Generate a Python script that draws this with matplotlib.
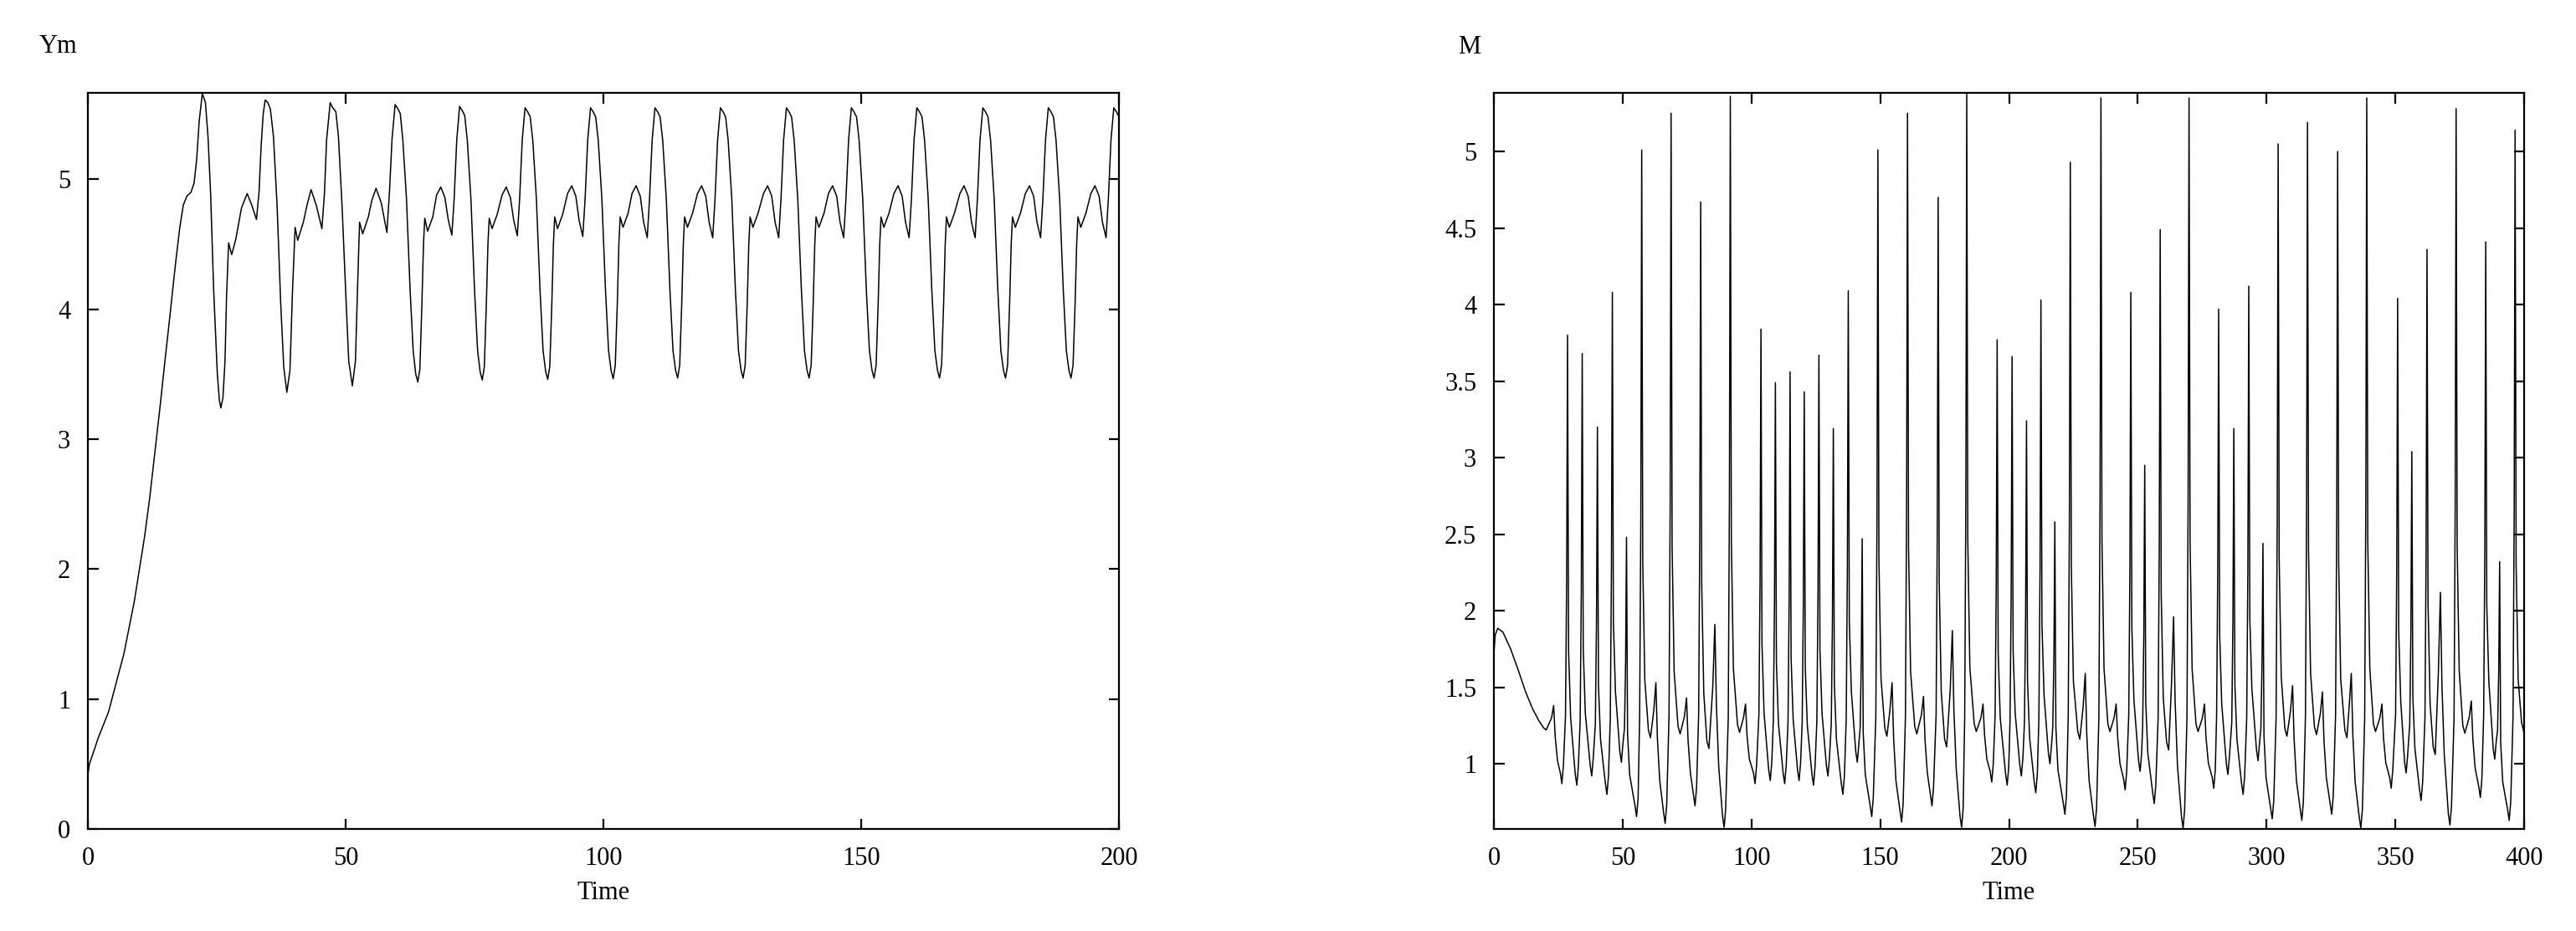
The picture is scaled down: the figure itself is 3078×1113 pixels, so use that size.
import numpy as np
import matplotlib
matplotlib.use("Agg")
import matplotlib.pyplot as plt

# Ym(t)
ym_time = [
    0, 0.3, 1, 2, 3, 4, 5, 6, 7, 8, 9, 10, 11, 12, 13, 14, 15, 16, 17, 17.8, 18.5, 19.2, 20.0, 20.6, 21.1, 21.6, 22.2,
    22.8, 23.3, 23.8, 24.4, 25.1, 25.5, 25.8, 26.2, 26.6, 26.9, 27.3, 27.9, 28.7, 29.8, 30.9, 31.8, 32.7, 33.2, 33.6, 34.0,
    34.4, 34.9, 35.4, 36.0, 36.7, 37.4, 38.0, 38.6, 39.2, 39.7, 40.2, 40.7, 41.8, 42.5, 43.3, 44.3, 45.4, 45.9, 46.3,
    47.0, 47.5, 48.1, 48.6, 49.3, 50.1, 50.6, 51.3, 51.9, 52.3, 52.7, 53.3, 54.4, 55.1, 55.9, 56.9, 58.0, 58.5, 59.0,
    59.6, 60.1, 60.6, 61.1, 61.8, 62.5, 63.1, 63.6, 64.0, 64.4, 64.8, 65.1, 65.35, 65.9, 66.9, 67.65, 68.45, 69.25, 69.9, 70.6, 71.05, 71.55,
    72.1, 72.6, 73.1, 73.6, 74.3, 75.0, 75.6, 76.1, 76.5, 76.9, 77.3, 77.6, 77.85, 78.4, 79.4, 80.35, 81.15, 81.95, 82.6, 83.3, 83.75, 84.25,
    84.8, 85.3, 85.8, 86.3, 87.0, 87.7, 88.3, 88.8, 89.2, 89.6, 90.0, 90.3, 90.55, 91.1, 92.1, 93.05, 93.85, 94.65, 95.3, 96.0, 96.45, 96.95,
    97.5, 98.0, 98.5, 99.0, 99.7, 100.4, 101.0, 101.5, 101.9, 102.3, 102.7, 103.0, 103.25, 103.8, 104.8, 105.55, 106.35, 107.15, 107.8, 108.5, 108.95, 109.45,
    110.0, 110.5, 111.0, 111.5, 112.2, 112.9, 113.5, 114.0, 114.4, 114.8, 115.2, 115.5, 115.75, 116.3, 117.3, 118.25, 119.05, 119.85, 120.5, 121.2, 121.65, 122.15,
    122.7, 123.2, 123.7, 124.2, 124.9, 125.6, 126.2, 126.7, 127.1, 127.5, 127.9, 128.2, 128.45, 129.0, 130.0, 131.05, 131.85, 132.65, 133.3, 134.0, 134.45, 134.95,
    135.5, 136.0, 136.5, 137.0, 137.7, 138.4, 139.0, 139.5, 139.9, 140.3, 140.7, 141.0, 141.25, 141.8, 142.8, 143.65, 144.45, 145.25, 145.9, 146.6, 147.05, 147.55,
    148.1, 148.6, 149.1, 149.6, 150.3, 151.0, 151.6, 152.1, 152.5, 152.9, 153.3, 153.6, 153.85, 154.4, 155.4, 156.35, 157.15, 157.95, 158.6, 159.3, 159.75, 160.25,
    160.8, 161.3, 161.8, 162.3, 163.0, 163.7, 164.3, 164.8, 165.2, 165.6, 166.0, 166.3, 166.55, 167.1, 168.1, 169.15, 169.95, 170.75, 171.4, 172.1, 172.55, 173.05,
    173.6, 174.1, 174.6, 175.1, 175.8, 176.5, 177.1, 177.6, 178.0, 178.4, 178.8, 179.1, 179.35, 179.9, 180.9, 181.85, 182.65, 183.45, 184.1, 184.8, 185.25, 185.75,
    186.3, 186.8, 187.3, 187.8, 188.5, 189.2, 189.8, 190.3, 190.7, 191.1, 191.5, 191.8, 192.05, 192.6, 193.6, 194.55, 195.35, 196.15, 196.8, 197.5, 197.95, 198.45,
    199.0, 199.5, 200.0,
]
ym_value = [
    0.42, 0.50, 0.58, 0.70, 0.80, 0.90, 1.05, 1.20, 1.35, 1.55, 1.75, 2.00, 2.25, 2.55, 2.90, 3.25, 3.62, 3.98, 4.35, 4.62, 4.80, 4.87, 4.90, 4.97, 5.15, 5.45, 5.66,
    5.59, 5.33, 4.90, 4.15, 3.51, 3.30, 3.24, 3.32, 3.60, 4.10, 4.51, 4.42, 4.54, 4.78, 4.89, 4.80, 4.69, 4.90, 5.25, 5.50,
    5.61, 5.59, 5.54, 5.33, 4.80, 4.05, 3.55, 3.36, 3.53, 4.15, 4.63, 4.53, 4.67, 4.80, 4.92, 4.80, 4.62, 4.90, 5.30,
    5.59, 5.55, 5.52, 5.33, 4.80, 4.05, 3.60, 3.41, 3.60, 4.15, 4.67, 4.58, 4.71, 4.84, 4.93, 4.82, 4.59, 4.90, 5.31,
    5.575, 5.545, 5.505, 5.30, 4.85, 4.15, 3.68, 3.50, 3.44, 3.54, 4.05, 4.50, 4.70, 4.60, 4.71, 4.88, 4.94, 4.86, 4.69, 4.57, 4.85, 5.30,
    5.56, 5.53, 5.49, 5.30, 4.85, 4.15, 3.68, 3.515, 3.455, 3.555, 4.05, 4.50, 4.70, 4.62, 4.73, 4.88, 4.94, 4.86, 4.685, 4.565, 4.85, 5.30,
    5.55, 5.52, 5.48, 5.30, 4.85, 4.15, 3.68, 3.52, 3.46, 3.56, 4.05, 4.50, 4.71, 4.62, 4.73, 4.89, 4.95, 4.87, 4.68, 4.56, 4.85, 5.30,
    5.55, 5.52, 5.48, 5.30, 4.85, 4.15, 3.68, 3.525, 3.465, 3.565, 4.05, 4.50, 4.71, 4.63, 4.74, 4.89, 4.95, 4.87, 4.67, 4.55, 4.85, 5.30,
    5.55, 5.52, 5.48, 5.30, 4.85, 4.15, 3.68, 3.53, 3.47, 3.57, 4.05, 4.50, 4.71, 4.63, 4.74, 4.89, 4.95, 4.87, 4.67, 4.55, 4.85, 5.30,
    5.55, 5.52, 5.48, 5.30, 4.85, 4.15, 3.68, 3.53, 3.47, 3.57, 4.05, 4.50, 4.71, 4.63, 4.74, 4.89, 4.95, 4.87, 4.67, 4.55, 4.85, 5.30,
    5.55, 5.52, 5.48, 5.30, 4.85, 4.15, 3.68, 3.53, 3.47, 3.57, 4.05, 4.50, 4.71, 4.63, 4.74, 4.89, 4.95, 4.87, 4.67, 4.55, 4.85, 5.30,
    5.55, 5.52, 5.48, 5.30, 4.85, 4.15, 3.68, 3.53, 3.47, 3.57, 4.05, 4.50, 4.71, 4.63, 4.74, 4.89, 4.95, 4.87, 4.67, 4.55, 4.85, 5.30,
    5.55, 5.52, 5.48, 5.30, 4.85, 4.15, 3.68, 3.53, 3.47, 3.57, 4.05, 4.50, 4.71, 4.63, 4.74, 4.89, 4.95, 4.87, 4.67, 4.55, 4.85, 5.30,
    5.55, 5.52, 5.48, 5.30, 4.85, 4.15, 3.68, 3.53, 3.47, 3.57, 4.05, 4.50, 4.71, 4.63, 4.74, 4.89, 4.95, 4.87, 4.67, 4.55, 4.85, 5.30,
    5.55, 5.52, 5.48, 5.30, 4.85, 4.15, 3.68, 3.53, 3.47, 3.57, 4.05, 4.50, 4.71, 4.63, 4.74, 4.89, 4.95, 4.87, 4.67, 4.55, 4.85, 5.30,
    5.55, 5.52, 5.48,
]

# M(t)
m_time = [
    0, 0.5, 1.5, 3.5, 6.5, 9.5, 12.3, 15.0, 17.5, 19.3, 20.3, 22.4, 23.2, 23.8, 24.7, 25.8, 26.4, 27.0, 27.8, 28.25,
    28.6, 29.0, 29.8, 31.6, 32.2, 32.8, 33.5, 33.95,
    34.3, 34.7, 35.5, 37.4, 38.0, 38.6, 39.4, 39.85,
    40.2, 40.6, 41.4, 43.3, 43.9, 44.5, 45.2, 45.65,
    46.0, 46.4, 47.2, 48.9, 49.5, 50.1, 50.7, 51.15,
    51.5, 51.9, 52.7, 54.8, 55.4, 56.0, 56.6, 57.05,
    57.4, 57.8, 58.6, 60.0, 60.8, 62.1, 62.9, 63.5, 64.4, 65.9, 66.5, 67.1, 68.0, 68.45,
    68.8, 69.2, 70.0, 71.5, 72.3, 74.0, 74.8, 75.4, 76.3, 77.5, 78.1, 78.7, 79.5, 79.95,
    80.3, 80.7, 81.5, 82.7, 83.5, 85.0, 85.8, 86.4, 87.3, 88.8, 89.4, 90.0, 91.0, 91.45,
    91.8, 92.2, 93.0, 94.6, 95.4, 96.9, 97.7, 98.3, 99.2, 100.8, 101.4, 102.0, 102.9, 103.35,
    103.7, 104.1, 104.9, 106.7, 107.3, 107.9, 108.5, 108.95,
    109.3, 109.7, 110.5, 112.3, 112.9, 113.5, 114.2, 114.65,
    115.0, 115.4, 116.2, 117.9, 118.5, 119.1, 119.7, 120.15,
    120.5, 120.9, 121.7, 123.5, 124.1, 124.7, 125.4, 125.85,
    126.2, 126.6, 127.4, 129.1, 129.7, 130.3, 131.0, 131.45,
    131.8, 132.2, 133.0, 134.9, 135.5, 136.1, 136.8, 137.25,
    137.6, 138.0, 138.8, 140.5, 141.1, 141.7, 142.2, 142.65,
    143.0, 143.4, 144.2, 146.1, 146.7, 147.3, 148.3, 148.75,
    149.1, 149.5, 150.3, 151.8, 152.6, 153.8, 154.6, 155.2, 156.1, 157.7, 158.3, 158.9, 159.8, 160.25,
    160.6, 161.0, 161.8, 163.4, 164.2, 166.0, 166.8, 167.4, 168.3, 169.5, 170.1, 170.7, 171.7, 172.15,
    172.5, 172.9, 173.7, 175.0, 175.8, 177.2, 178.0, 178.6, 179.5, 181.0, 181.6, 182.2, 182.8, 183.25,
    183.6, 184.0, 184.8, 186.5, 187.3, 189.1, 189.9, 190.5, 191.4, 192.7, 193.3, 193.9, 194.6, 195.05,
    195.4, 195.8, 196.6, 198.7, 199.3, 199.9, 200.4, 200.85,
    201.2, 201.6, 202.4, 204.2, 204.8, 205.4, 206.0, 206.45,
    206.8, 207.2, 208.0, 209.8, 210.4, 211.0, 211.6, 212.05,
    212.4, 212.8, 213.6, 215.3, 215.9, 216.5, 217.0, 217.45,
    217.8, 218.2, 219.0, 221.1, 221.7, 222.3, 223.0, 223.45,
    223.8, 224.2, 225.0, 226.7, 227.5, 228.8, 229.6, 230.2, 231.1, 232.8, 233.4, 234.0, 234.9, 235.35,
    235.7, 236.1, 236.9, 238.4, 239.2, 240.8, 241.6, 242.2, 243.1, 244.5, 245.1, 245.7, 246.5, 246.95,
    247.3, 247.7, 248.5, 250.3, 250.9, 251.5, 251.9, 252.35,
    252.7, 253.1, 253.9, 255.8, 256.4, 257.0, 257.9, 258.35,
    258.7, 259.1, 259.9, 261.2, 262.0, 263.1, 263.9, 264.5, 265.4, 267.0, 267.6, 268.2, 269.1, 269.55,
    269.9, 270.3, 271.1, 272.6, 273.4, 275.1, 275.9, 276.5, 277.4, 278.9, 279.5, 280.1, 280.6, 281.05,
    281.4, 281.8, 282.6, 284.4, 285.0, 285.6, 286.5, 286.95,
    287.3, 287.7, 288.5, 290.3, 290.9, 291.5, 292.3, 292.75,
    293.1, 293.5, 294.3, 296.1, 296.7, 297.3, 297.8, 298.25,
    298.6, 299.0, 299.8, 301.6, 302.2, 302.8, 303.7, 304.15,
    304.5, 304.9, 305.7, 307.1, 307.9, 309.3, 310.1, 310.7, 311.6, 313.1, 313.7, 314.3, 315.1, 315.55,
    315.9, 316.3, 317.1, 318.6, 319.4, 320.9, 321.7, 322.3, 323.2, 324.7, 325.3, 325.9, 326.8, 327.25,
    327.6, 328.0, 328.8, 330.4, 331.2, 332.1, 332.9, 333.5, 334.4, 336.0, 336.6, 337.2, 338.1, 338.55,
    338.9, 339.3, 340.1, 341.5, 342.3, 344.0, 344.8, 345.4, 346.3, 347.8, 348.4, 349.0, 350.1, 350.55,
    350.9, 351.3, 352.1, 353.6, 354.2, 354.8, 355.6, 356.05,
    356.4, 356.8, 357.6, 359.4, 360.0, 360.6, 361.5, 361.95,
    362.3, 362.7, 363.5, 364.7, 365.5, 366.7, 367.5, 368.1, 369.0, 370.6, 371.2, 371.8, 372.8, 373.25,
    373.6, 374.0, 374.8, 376.2, 377.0, 378.7, 379.5, 380.1, 381.0, 382.4, 383.0, 383.6, 384.3, 384.75,
    385.1, 385.5, 386.3, 388.0, 388.6, 389.2, 389.7, 390.15,
    390.5, 390.9, 391.7, 393.6, 394.2, 394.8, 395.7, 396.15,
    396.5, 396.9, 397.7, 399.0, 400.0,
]
m_value = [
    1.72, 1.84, 1.885, 1.86, 1.75, 1.61, 1.47, 1.36, 1.28, 1.235, 1.22, 1.30, 1.38, 1.18, 1.02, 0.94, 0.87, 0.99, 1.31, 2.19,
    3.80, 1.74, 1.30, 0.93, 0.86, 0.98, 1.28, 2.13,
    3.68, 1.75, 1.33, 0.99, 0.92, 1.04, 1.26, 1.95,
    3.20, 1.52, 1.16, 0.87, 0.80, 0.92, 1.29, 2.28,
    4.08, 1.93, 1.47, 1.08, 1.01, 1.13, 1.23, 1.67,
    2.48, 1.20, 0.93, 0.725, 0.655, 0.775, 1.31, 2.61,
    5.01, 2.32, 1.55, 1.22, 1.17, 1.35, 1.53, 1.16, 0.89, 0.68, 0.61, 0.73, 1.31, 2.70,
    5.25, 2.41, 1.60, 1.245, 1.195, 1.31, 1.43, 1.15, 0.94, 0.795, 0.725, 0.845, 1.32, 2.50,
    4.67, 2.17, 1.46, 1.15, 1.10, 1.505, 1.91, 1.38, 0.98, 0.655, 0.585, 0.705, 1.30, 2.73,
    5.36, 2.45, 1.62, 1.255, 1.205, 1.30, 1.39, 1.18, 1.03, 0.94, 0.87, 0.99, 1.32, 2.21,
    3.84, 1.78, 1.33, 0.96, 0.89, 1.01, 1.28, 2.06,
    3.49, 1.66, 1.26, 0.94, 0.87, 0.99, 1.27, 2.08,
    3.56, 1.69, 1.29, 0.96, 0.89, 1.01, 1.27, 2.03,
    3.43, 1.63, 1.25, 0.93, 0.86, 0.98, 1.28, 2.12,
    3.67, 1.75, 1.33, 0.99, 0.92, 1.04, 1.26, 1.94,
    3.19, 1.52, 1.16, 0.87, 0.80, 0.92, 1.29, 2.28,
    4.09, 1.93, 1.47, 1.08, 1.01, 1.13, 1.23, 1.67,
    2.47, 1.20, 0.93, 0.725, 0.655, 0.775, 1.31, 2.61,
    5.01, 2.33, 1.56, 1.23, 1.18, 1.355, 1.53, 1.17, 0.89, 0.69, 0.62, 0.74, 1.31, 2.70,
    5.25, 2.41, 1.60, 1.245, 1.195, 1.32, 1.44, 1.155, 0.94, 0.795, 0.725, 0.845, 1.32, 2.51,
    4.70, 2.19, 1.47, 1.16, 1.11, 1.49, 1.87, 1.355, 0.97, 0.655, 0.585, 0.705, 1.305, 2.74,
    5.383, 2.46, 1.63, 1.26, 1.21, 1.30, 1.39, 1.19, 1.03, 0.95, 0.88, 1.00, 1.31, 2.18,
    3.77, 1.73, 1.30, 0.93, 0.86, 0.98, 1.28, 2.12,
    3.66, 1.74, 1.33, 0.99, 0.92, 1.04, 1.27, 1.96,
    3.24, 1.54, 1.17, 0.88, 0.81, 0.93, 1.29, 2.26,
    4.03, 1.91, 1.45, 1.07, 1.00, 1.12, 1.24, 1.71,
    2.58, 1.24, 0.96, 0.74, 0.67, 0.79, 1.31, 2.59,
    4.93, 2.29, 1.54, 1.21, 1.16, 1.375, 1.59, 1.19, 0.89, 0.66, 0.59, 0.71, 1.30, 2.73,
    5.35, 2.45, 1.62, 1.26, 1.21, 1.30, 1.39, 1.17, 1.00, 0.90, 0.83, 0.95, 1.32, 2.29,
    4.08, 1.89, 1.42, 1.02, 0.95, 1.07, 1.25, 1.85,
    2.95, 1.40, 1.07, 0.81, 0.74, 0.86, 1.30, 2.43,
    4.49, 2.11, 1.43, 1.14, 1.09, 1.525, 1.96, 1.41, 0.99, 0.65, 0.58, 0.70, 1.30, 2.73,
    5.35, 2.45, 1.62, 1.26, 1.21, 1.30, 1.39, 1.17, 1.005, 0.91, 0.84, 0.96, 1.31, 2.25,
    3.97, 1.84, 1.39, 1.00, 0.93, 1.05, 1.27, 1.95,
    3.19, 1.52, 1.16, 0.87, 0.80, 0.92, 1.30, 2.29,
    4.12, 1.95, 1.49, 1.09, 1.02, 1.14, 1.23, 1.66,
    2.44, 1.18, 0.91, 0.71, 0.64, 0.76, 1.30, 2.62,
    5.05, 2.34, 1.57, 1.23, 1.18, 1.345, 1.51, 1.16, 0.89, 0.70, 0.63, 0.75, 1.31, 2.68,
    5.19, 2.39, 1.59, 1.24, 1.19, 1.33, 1.47, 1.15, 0.91, 0.74, 0.67, 0.79, 1.32, 2.62,
    5.00, 2.32, 1.55, 1.22, 1.17, 1.38, 1.59, 1.19, 0.88, 0.65, 0.58, 0.70, 1.30, 2.73,
    5.35, 2.45, 1.62, 1.26, 1.21, 1.30, 1.39, 1.17, 1.005, 0.91, 0.84, 0.96, 1.32, 2.28,
    4.04, 1.87, 1.41, 1.01, 0.94, 1.06, 1.26, 1.89,
    3.04, 1.44, 1.10, 0.83, 0.76, 0.88, 1.30, 2.38,
    4.36, 2.05, 1.39, 1.11, 1.06, 1.59, 2.12, 1.51, 1.06, 0.67, 0.60, 0.72, 1.30, 2.71,
    5.28, 2.42, 1.61, 1.25, 1.20, 1.305, 1.41, 1.16, 0.97, 0.85, 0.78, 0.90, 1.32, 2.41,
    4.41, 2.04, 1.54, 1.10, 1.03, 1.15, 1.22, 1.61,
    2.32, 1.14, 0.88, 0.70, 0.63, 0.75, 1.31, 2.66,
    5.14, 2.30, 1.55, 1.27, 1.20,
]

ym_xticks = [0, 50, 100, 150, 200]
ym_yticks = [0, 1, 2, 3, 4, 5]
m_xticks = [0, 50, 100, 150, 200, 250, 300, 350, 400]
m_yticks = [1, 1.5, 2, 2.5, 3, 3.5, 4, 4.5, 5]
m_yticklabels = ["1", "1.5", "2", "2.5", "3", "3.5", "4", "4.5", "5"]

plt.rcParams['font.family'] = ['Liberation Serif', 'DejaVu Serif']

W, H = 3078, 1113
fig = plt.figure(figsize=(W / 100, H / 100), dpi=100)
ax1 = fig.add_axes([105 / W, 1 - 991 / H, 1232 / W, 880 / H])
ax2 = fig.add_axes([1785 / W, 1 - 991 / H, 1231 / W, 880 / H])

ax1.plot(ym_time, ym_value, color='black', lw=1.1)
ax1.set_xlim(0, 200)
ax1.set_ylim(0, 5.665)
ax1.set_xticks(ym_xticks)
ax1.set_yticks(ym_yticks)

ax2.plot(m_time, m_value, color='black', lw=1.1)
ax2.set_xlim(0, 400)
ax2.set_ylim(0.574, 5.383)
ax2.set_xticks(m_xticks)
ax2.set_yticks(m_yticks)
ax2.set_yticklabels(m_yticklabels)

for ax in (ax1, ax2):
    for s in ax.spines.values():
        s.set_linewidth(1.6)
    ax.tick_params(direction='in', top=True, right=True, length=9, width=1.6, labelsize=22)
    ax.tick_params(axis='x', pad=15)
    ax.tick_params(axis='y', pad=15)
    ax.set_xlabel('Time', fontsize=22, labelpad=9)

fig.text(47 / W, 1 - 63 / H, 'Ym', fontsize=22, va='baseline')
fig.text(1742 / W, 1 - 64 / H, 'M', fontsize=22, va='baseline')

fig.savefig('out.png', dpi=100)
